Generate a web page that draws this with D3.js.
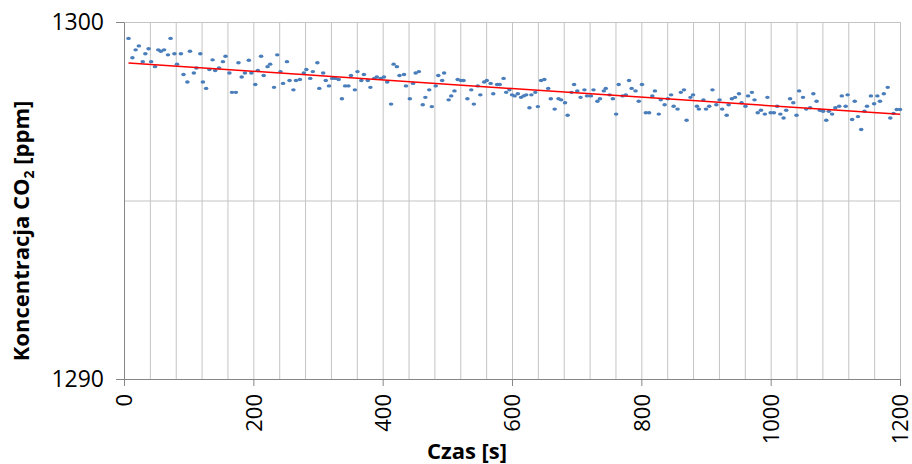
<!DOCTYPE html>
<html lang="pl">
  <head>
    <meta charset="utf-8" />
    <title>Koncentracja CO2</title>
    <style>
      body {
        margin: 0;
        background: #fff;
      }
      text {
        font-family: 'Open Sans', sans-serif;
        fill: #000;
      }
      .grid line {
        stroke: #c4c4c4;
        stroke-width: 1;
      }
      .grid path {
        display: none;
      }
      .axis path,
      .axis line {
        stroke: #868686;
      }
      .title {
        font-weight: bold;
        font-size: 22px;
      }
    </style>
    <script src="https://d3js.org/d3.v7.min.js"></script>
  </head>

  <body>
    <svg width="912" height="464"></svg>

    <script>
      // czas pomiaru [s]
      const times = [
        7, 13, 18, 23, 29, 33, 38, 42, 48, 53, 57, 62, 68, 72, 78, 82, 88, 92, 98, 102,
        108, 112, 118, 122, 127, 132, 137, 141, 147, 153, 157, 163, 167, 173, 177, 182, 187, 193, 197, 203,
        207, 212, 216, 222, 226, 232, 237, 242, 246, 252, 256, 262, 266, 272, 278, 282, 288, 292, 299, 302,
        308, 312, 317, 322, 327, 332, 337, 342, 347, 351, 357, 361, 367, 371, 377, 381, 387, 391, 397, 402,
        407, 413, 417, 422, 426, 433, 436, 442, 447, 451, 456, 462, 466, 472, 476, 482, 486, 492, 495, 502,
        506, 511, 516, 521, 525, 531, 537, 541, 547, 551, 557, 561, 567, 571, 577, 581, 587, 591, 596, 600,
        604, 609, 614, 618, 622, 627, 630, 636, 640, 645, 650, 656, 660, 666, 672, 676, 682, 686, 692, 696,
        701, 706, 712, 716, 722, 726, 732, 736, 742, 745, 751, 756, 761, 765, 771, 776, 781, 785, 791, 796,
        801, 807, 812, 817, 821, 827, 830, 836, 841, 846, 850, 856, 861, 866, 870, 876, 880, 886, 889, 896,
        900, 905, 910, 916, 921, 925, 932, 935, 940, 945, 951, 955, 961, 965, 971, 975, 980, 985, 991, 995,
        1000, 1005, 1010, 1015, 1020, 1024, 1030, 1035, 1040, 1044, 1050, 1055, 1061, 1066, 1071, 1076, 1081, 1086, 1090, 1095,
        1100, 1106, 1110, 1116, 1119, 1126, 1130, 1135, 1140, 1145, 1149, 1155, 1160, 1165, 1169, 1175, 1181, 1185, 1190, 1195,
        1200,
      ];
      // koncentracja CO2 [ppm]
      const co2 = [
        1299.54, 1299.0, 1299.22, 1299.33, 1298.89, 1299.11, 1299.25, 1298.89, 1298.75, 1299.22,
        1299.18, 1299.22, 1299.08, 1299.54, 1299.11, 1298.82, 1299.11, 1298.53, 1298.32, 1299.18,
        1298.57, 1298.71, 1299.11, 1298.32, 1298.14, 1298.67, 1298.94, 1298.64, 1298.71, 1298.89,
        1299.04, 1298.57, 1298.03, 1298.03, 1298.86, 1298.46, 1298.57, 1298.93, 1298.57, 1298.25,
        1298.64, 1299.04, 1298.5, 1298.75, 1298.82, 1298.17, 1299.08, 1298.61, 1298.28, 1298.89,
        1298.36, 1298.1, 1298.36, 1298.39, 1298.57, 1298.67, 1298.42, 1298.61, 1298.86, 1298.14,
        1298.57, 1298.36, 1298.21, 1298.42, 1298.42, 1298.39, 1297.85, 1298.21, 1298.21, 1298.5,
        1298.1, 1298.61, 1298.36, 1298.53, 1298.36, 1298.17, 1298.42, 1298.46, 1298.42, 1298.46,
        1298.32, 1297.7, 1298.82, 1298.75, 1298.5, 1298.53, 1298.21, 1297.85, 1298.28, 1298.57,
        1298.61, 1297.68, 1297.89, 1298.1, 1297.63, 1298.21, 1298.5, 1298.36, 1298.57, 1297.82,
        1297.93, 1298.07, 1298.39, 1298.36, 1298.36, 1297.85, 1298.1, 1297.7, 1298.21, 1297.96,
        1298.32, 1298.36, 1298.28, 1297.99, 1298.25, 1298.25, 1298.42, 1298.03, 1298.1, 1297.96,
        1297.93, 1297.99, 1297.89, 1297.93, 1297.96, 1297.6, 1297.96, 1298.03, 1297.63, 1298.36,
        1298.39, 1298.14, 1297.85, 1297.56, 1297.85, 1297.82, 1297.74, 1297.39, 1298.03, 1298.25,
        1298.07, 1297.89, 1298.1, 1297.93, 1297.93, 1298.1, 1297.78, 1297.85, 1298.07, 1298.14,
        1297.96, 1297.85, 1297.42, 1298.25, 1297.93, 1297.96, 1298.36, 1298.14, 1298.07, 1297.78,
        1298.25, 1297.46, 1297.46, 1297.93, 1298.07, 1297.42, 1297.82, 1297.68, 1297.85, 1297.96,
        1297.64, 1297.56, 1298.03, 1298.1, 1297.25, 1297.89, 1297.96, 1297.64, 1297.56, 1297.82,
        1297.56, 1297.64, 1298.1, 1297.68, 1297.82, 1297.56, 1297.39, 1297.68, 1297.85, 1297.89,
        1297.99, 1297.74, 1297.64, 1297.93, 1298.03, 1297.82, 1297.46, 1297.53, 1297.42, 1297.89,
        1297.46, 1297.46, 1297.64, 1297.42, 1297.31, 1297.53, 1297.85, 1297.74, 1297.39, 1298.07,
        1297.89, 1297.56, 1297.6, 1297.99, 1297.78, 1297.53, 1297.5, 1297.25, 1297.5, 1297.42,
        1297.6, 1297.64, 1297.93, 1297.64, 1297.96, 1297.27, 1297.78, 1297.35, 1296.99, 1297.5,
        1297.64, 1297.93, 1297.71, 1297.93, 1297.78, 1297.99, 1298.17, 1297.31, 1297.44, 1297.55,
        1297.55,
      ];
      const xTicks = [0, 200, 400, 600, 800, 1000, 1200];
      const xGrid = d3.range(0, 1201, 40);
      const yTicks = [1290, 1300];
      const yGrid = [1295, 1300];

      const svg = d3.select('svg');
      const plot = { left: 124, right: 900, top: 22, bottom: 379 };

      const x = d3
        .scaleLinear()
        .domain([0, 1200])
        .range([plot.left, plot.right]);
      const y = d3
        .scaleLinear()
        .domain([1290, 1300])
        .range([plot.bottom, plot.top]);

      // siatka
      svg
        .append('g')
        .attr('class', 'grid')
        .attr('transform', `translate(0,${plot.bottom})`)
        .call(
          d3
            .axisBottom(x)
            .tickValues(xGrid)
            .tickSize(-(plot.bottom - plot.top))
            .tickFormat(''),
        );
      svg
        .append('g')
        .attr('class', 'grid')
        .attr('transform', `translate(${plot.left},0)`)
        .call(
          d3
            .axisLeft(y)
            .tickValues(yGrid)
            .tickSize(-(plot.right - plot.left))
            .tickFormat(''),
        );

      // osie
      const xAxis = svg
        .append('g')
        .attr('class', 'axis')
        .attr('transform', `translate(0,${plot.bottom})`)
        .call(
          d3
            .axisBottom(x)
            .tickValues(xTicks)
            .tickFormat(d3.format('d'))
            .tickSize(7)
            .tickSizeOuter(0),
        );
      xAxis
        .selectAll('text')
        .attr('transform', 'rotate(-90)')
        .attr('x', -15)
        .attr('y', 0)
        .attr('dy', '0.36em')
        .style('text-anchor', 'end')
        .style('font-size', '22px')
        .style('font-family', "'Open Sans', sans-serif")
        .style('fill', '#000');

      const yAxis = svg
        .append('g')
        .attr('class', 'axis')
        .attr('transform', `translate(${plot.left},0)`)
        .call(
          d3
            .axisLeft(y)
            .tickValues(yTicks)
            .tickFormat(d3.format('d'))
            .tickSize(8)
            .tickSizeOuter(0),
        );
      yAxis
        .selectAll('text')
        .attr('x', -20)
        .style('font-size', '23px')
        .style('font-family', "'Open Sans', sans-serif")
        .style('fill', '#000');

      // punkty pomiarowe
      const pts = times.map((t, i) => ({ t, v: co2[i] }));
      svg
        .append('g')
        .selectAll('ellipse')
        .data(pts)
        .enter()
        .append('ellipse')
        .attr('cx', (d) => x(d.t))
        .attr('cy', (d) => y(d.v))
        .attr('rx', 2.3)
        .attr('ry', 1.7)
        .attr('fill', '#4a7ebb');

      // linia trendu (regresja liniowa)
      const mt = d3.mean(pts, (d) => d.t);
      const mv = d3.mean(pts, (d) => d.v);
      const slope =
        d3.sum(pts, (d) => (d.t - mt) * (d.v - mv)) /
        d3.sum(pts, (d) => (d.t - mt) ** 2);
      const t0 = d3.min(times),
        t1 = d3.max(times);
      svg
        .append('line')
        .attr('x1', x(t0))
        .attr('y1', y(mv + slope * (t0 - mt)))
        .attr('x2', x(t1))
        .attr('y2', y(mv + slope * (t1 - mt)))
        .attr('stroke', '#ff0000')
        .attr('stroke-width', 1.5);

      // tytuły osi
      svg
        .append('text')
        .attr('class', 'title')
        .attr('x', 467)
        .attr('y', 459)
        .attr('text-anchor', 'middle')
        .text('Czas [s]');

      const yt = svg
        .append('text')
        .attr('class', 'title')
        .attr('transform', 'translate(29,231) rotate(-90)')
        .attr('text-anchor', 'middle');
      yt.append('tspan').text('Koncentracja CO');
      yt.append('tspan')
        .attr('dy', 5)
        .style('font-size', '14px')
        .text('2');
      yt.append('tspan').attr('dy', -5).text(' [ppm]');
    </script>
  </body>
</html>
